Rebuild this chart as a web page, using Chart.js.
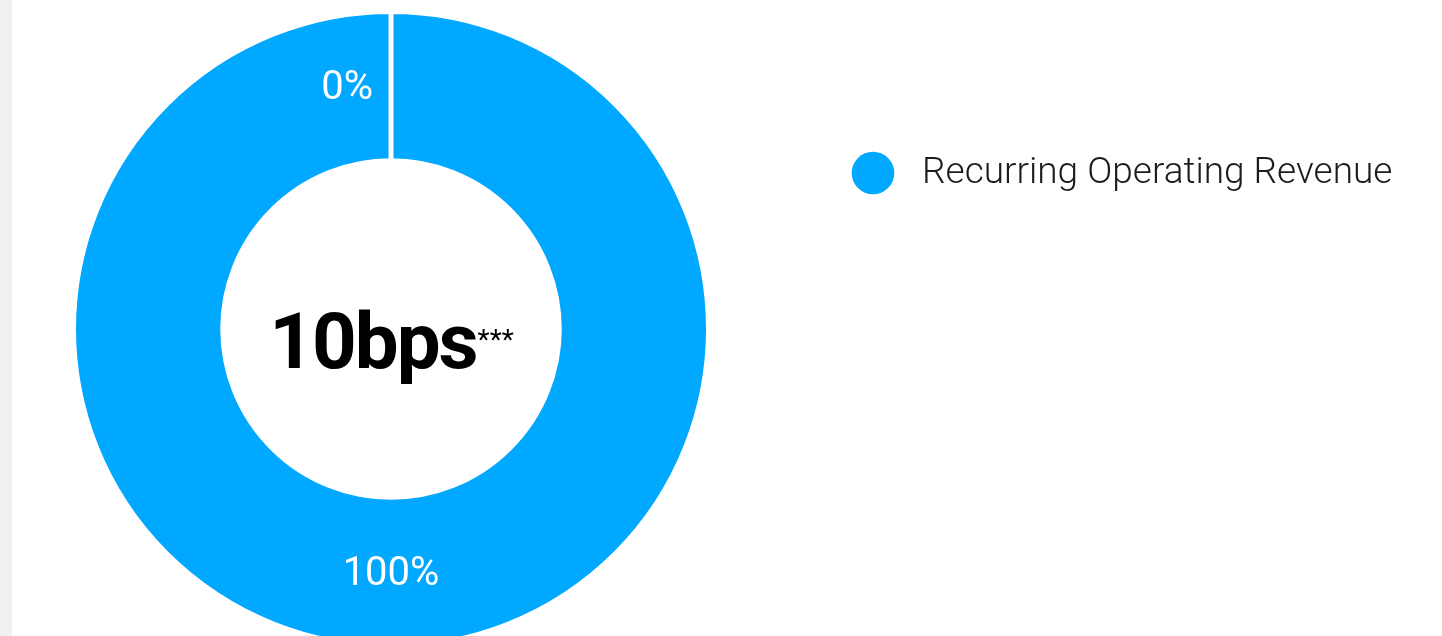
<!DOCTYPE html>
<html>
<head>
<meta charset="utf-8">
<script src="https://cdn.jsdelivr.net/npm/chart.js@4.4.1/dist/chart.umd.min.js"></script>
<style>
  html, body { margin: 0; padding: 0; background: #ffffff; overflow: hidden; width: 1442px; height: 636px; }
  .rail { position: absolute; left: 0; top: 0; width: 12px; height: 636px; background: #f1f1f1; }
  .wrap { position: absolute; left: 0; top: 0; width: 1442px; height: 651px; }
</style>
</head>
<body>
<div class="rail"></div>
<div class="wrap"><canvas id="revenueMix" width="1442" height="651"></canvas></div>
<script>
// Revenue mix, share of total in percent
const categories = ['Recurring Operating Revenue', 'Non-Recurring Operating Revenue'];
const shares = [100, 0];
const sliceColors = ['#00a8ff', '#00a8ff'];

// Headline figure shown in the hole of the ring
const headline = '10bps';
const headlineNote = '***';

const FONT = 'Roboto, "Noto Sans", sans-serif';

// Percent labels sitting on each slice
const sliceLabels = {
  id: 'sliceLabels',
  afterDatasetsDraw(chart) {
    const ctx = chart.ctx;
    const meta = chart.getDatasetMeta(0);
    const values = chart.data.datasets[0].data;
    ctx.save();
    ctx.fillStyle = '#ffffff';
    ctx.font = '400 40px ' + FONT;
    ctx.textBaseline = 'middle';
    meta.data.forEach((arc, i) => {
      const p = arc.tooltipPosition();
      const text = values[i] + '%';
      if (values[i] === 0) {
        // an empty slice has no width, so its label sits beside the seam
        ctx.textAlign = 'right';
        ctx.fillText(text, p.x - 18, p.y + 3);
      } else {
        ctx.textAlign = 'center';
        ctx.fillText(text, p.x, p.y + 3);
      }
    });
    ctx.restore();
  }
};

// Headline in the middle of the doughnut
const centerText = {
  id: 'centerText',
  afterDraw(chart) {
    const ctx = chart.ctx;
    const arc = chart.getDatasetMeta(0).data[0];
    if (!arc) return;
    ctx.save();
    const bigFont = '700 78px ' + FONT;
    const smallFont = '400 28px ' + FONT;
    ctx.letterSpacing = '-2px';
    ctx.font = bigFont;
    const w1 = ctx.measureText(headline).width;
    ctx.letterSpacing = '0px';
    ctx.font = smallFont;
    const w2 = ctx.measureText(headlineNote).width;
    const left = arc.x - (w1 + w2) / 2;
    const base = arc.y + 39;
    ctx.fillStyle = '#000000';
    ctx.textAlign = 'left';
    ctx.textBaseline = 'alphabetic';
    ctx.letterSpacing = '-2px';
    ctx.font = bigFont;
    ctx.fillText(headline, left, base);
    ctx.letterSpacing = '0px';
    ctx.font = smallFont;
    ctx.fillText(headlineNote, left + w1 + 1, base - 19);
    ctx.restore();
  }
};

// Legend at the right, listing the slices that carry a share
const sideLegend = {
  id: 'sideLegend',
  afterDraw(chart) {
    const ctx = chart.ctx;
    const ds = chart.data.datasets[0];
    let y = 173;
    ctx.save();
    chart.data.labels.forEach((label, i) => {
      if (!ds.data[i]) return;
      ctx.fillStyle = ds.backgroundColor[i];
      ctx.beginPath();
      ctx.arc(873, y, 21.3, 0, Math.PI * 2);
      ctx.fill();
      ctx.fillStyle = '#1c1c1c';
      ctx.font = '300 37px ' + FONT;
      ctx.textAlign = 'left';
      ctx.textBaseline = 'middle';
      ctx.fillText(label, 922, y + 1);
      y += 56;
    });
    ctx.restore();
  }
};

new Chart(document.getElementById('revenueMix'), {
  type: 'doughnut',
  data: {
    labels: categories,
    datasets: [{
      data: shares,
      backgroundColor: sliceColors,
      borderColor: '#ffffff',
      borderWidth: 5
    }]
  },
  options: {
    responsive: false,
    devicePixelRatio: 1,
    animation: false,
    cutout: '53%',
    layout: { padding: { top: 9, bottom: 2, left: 0, right: 660 } },
    plugins: {
      legend: { display: false },
      tooltip: { enabled: false }
    }
  },
  plugins: [sliceLabels, centerText, sideLegend]
});
</script>
</body>
</html>
